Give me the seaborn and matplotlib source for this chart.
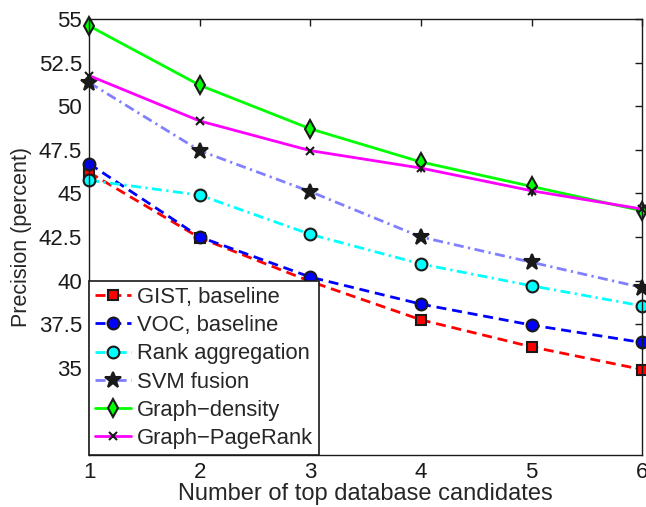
import matplotlib
matplotlib.use("Agg")
import matplotlib.pyplot as plt
import seaborn as sns
import pandas as pd

x_vals = [1, 2, 3, 4, 5, 6]
series_names = ["GIST, baseline", "VOC, baseline", "Rank aggregation",
                "SVM fusion", "Graph\u2212density", "Graph\u2212PageRank"]
gist = [46.2, 42.45, 39.95, 37.75, 36.2, 34.9]
voc = [46.7, 42.5, 40.2, 38.65, 37.45, 36.45]
rank_agg = [45.75, 44.9, 42.65, 40.95, 39.7, 38.55]
svm = [51.35, 47.45, 45.1, 42.5, 41.05, 39.6]
graph_density = [54.6, 51.2, 48.7, 46.8, 45.4, 44.0]
graph_pagerank = [51.75, 49.15, 47.45, 46.45, 45.15, 44.1]
y_ticks = [35, 37.5, 40, 42.5, 45, 47.5, 50, 52.5, 55]

values = [gist, voc, rank_agg, svm, graph_density, graph_pagerank]

sns.set_theme(style="white")
plt.rcParams['font.family'] = ['Liberation Sans', 'DejaVu Sans']
plt.rcParams['axes.unicode_minus'] = True

fig = plt.figure(figsize=(6.46, 5.07), dpi=100)
ax = fig.add_axes([0.138, 0.1026, 0.856, 0.86])

dash = (0, (3.6, 2.1))
dashdot = (0, (3.6, 1.6, 0.8, 1.6))
styles = [
    dict(color="#FF0000", linestyle=dash, marker="s", markersize=6.5,
         markerfacecolor="#FF0000", markeredgecolor="k"),
    dict(color="#0000FF", linestyle=dash, marker="o", markersize=8.5,
         markerfacecolor="#0000FF", markeredgecolor="k"),
    dict(color="#00FFFF", linestyle=dashdot, marker="o", markersize=8.5,
         markerfacecolor="#00FFFF", markeredgecolor="k"),
    dict(color="#8080FF", linestyle=dashdot, marker="*", markersize=12,
         markerfacecolor="k", markeredgecolor="k"),
    dict(color="#00FF00", linestyle="-", marker="d", markersize=9,
         markerfacecolor="#00FF00", markeredgecolor="k"),
    dict(color="#FF00FF", linestyle="-", marker="x", markersize=6,
         markerfacecolor="k", markeredgecolor="k"),
]

for name, vals, st in zip(series_names, values, styles):
    df = pd.DataFrame({"x": x_vals, "y": vals})
    sns.lineplot(data=df, x="x", y="y", ax=ax, label=name, linewidth=2.0,
                 markeredgewidth=1.5, clip_on=False, **st)

ax.set_xlim(1, 6)
ax.set_ylim(30, 55)
ax.set_xticks(x_vals)
ax.set_yticks(y_ticks)
ax.set_yticklabels([f"{t:g}" for t in y_ticks])
ax.tick_params(axis="both", which="both", direction="in", length=5, width=1,
               top=True, right=True, labelsize=16, colors="k", pad=5)
for sp in ax.spines.values():
    sp.set_color("k")
    sp.set_linewidth(1)
    sp.set_visible(True)

ax.set_xlabel("Number of top database candidates", fontsize=17, labelpad=0)
ax.set_ylabel("Precision (percent)", fontsize=15.5, labelpad=5)

leg = ax.legend(loc="lower left", borderaxespad=0, fontsize=15.8, frameon=True,
                fancybox=False, framealpha=1, edgecolor="k", handlelength=1.65,
                handletextpad=0.25, labelspacing=0.33, borderpad=0.27)
leg.get_frame().set_linewidth(1.2)
leg.set_zorder(10)

fig.savefig("out.png", dpi=100)
